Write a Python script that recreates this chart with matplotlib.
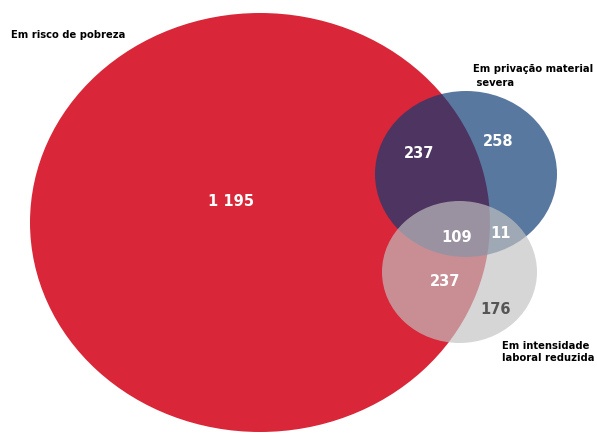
import matplotlib
matplotlib.use("Agg")
import matplotlib.pyplot as plt
from matplotlib.patches import Ellipse

plt.rcParams['font.family'] = ['DejaVu Sans']

# conjuntos e contagens por região
sets = ["Em risco de pobreza", "Em privação material\n severa", "Em intensidade\nlaboral reduzida"]
regions = ["pobreza", "pobreza+privacao", "privacao", "todos", "privacao+laboral", "pobreza+laboral", "laboral"]
values = [1195, 237, 258, 109, 11, 237, 176]


def fmt(v):
    return "{:,}".format(v).replace(",", " ")


fig = plt.figure(figsize=(5.97, 4.34), dpi=100)
ax = fig.add_axes([0, 0, 1, 1])
ax.set_xlim(0, 597)
ax.set_ylim(434, 0)
ax.axis("off")

# elipses (centro, largura, altura, cor, alpha)
shapes = [
    ((260, 222.5), 460, 419, (0.851, 0.149, 0.220), 1.0),
    ((466, 174), 182, 166, (0.06, 0.23, 0.46), 0.69),
    ((459.5, 272), 155, 142, (0.76, 0.76, 0.76), 0.67),
]
for (c, w, h, col, a) in shapes:
    ax.add_patch(Ellipse(c, w, h, facecolor=col, alpha=a, edgecolor="none"))

# rótulos dos conjuntos
ax.text(11, 35, sets[0], fontsize=7.2, fontweight="bold", va="center", ha="left")
ax.text(473, 76, sets[1], fontsize=7.2, fontweight="bold", va="center", ha="left",
        linespacing=1.5)
ax.text(502, 352, sets[2], fontsize=7.2, fontweight="bold", va="center", ha="left",
        linespacing=1.2)

# números em cada região
pos = [(231, 202), (419, 153), (498, 142), (457, 238), (501, 233), (445, 281), (496, 310)]
cols = ["white"] * 6 + ["#555555"]
for v, (x, y), c in zip(values, pos, cols):
    ax.text(x, y, fmt(v), fontsize=10.5, fontweight="bold", color=c, ha="center", va="center")

fig.savefig("out.png", dpi=100)
